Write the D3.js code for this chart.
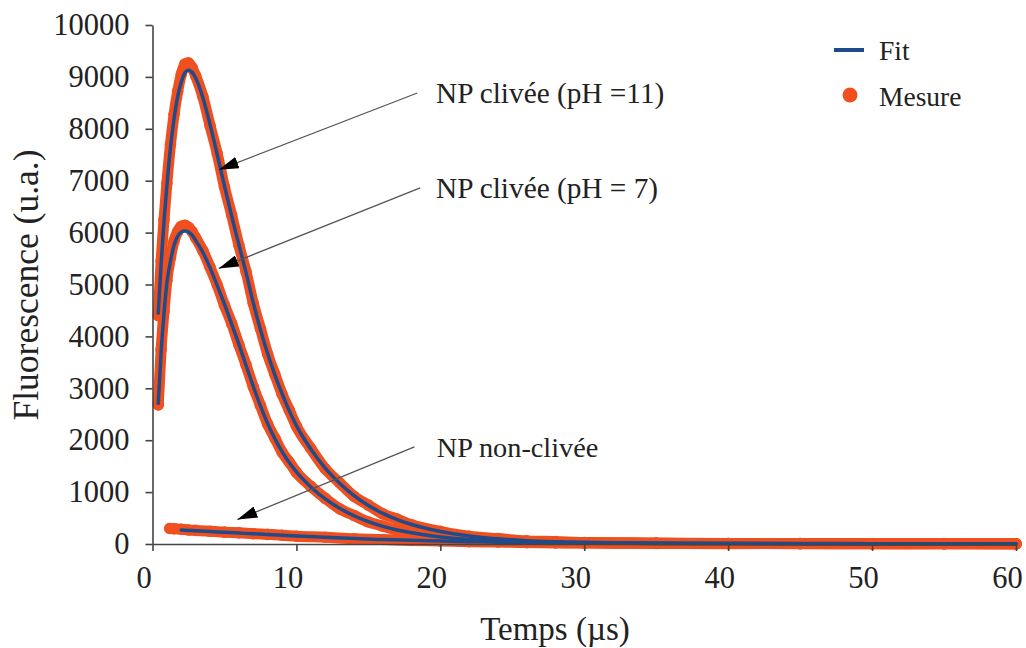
<!DOCTYPE html>
<html>
<head>
<meta charset="utf-8">
<script src="https://cdn.jsdelivr.net/npm/d3@7"></script>
<style>
  html, body { margin: 0; padding: 0; background: #ffffff; }
  svg { display: block; }
  text { font-family: "Liberation Serif", "DejaVu Serif", serif; fill: #222; }
</style>
</head>
<body>
<svg id="chart" width="1026" height="648"></svg>
<script>
// ---------- data ----------
const times = [0.4,0.6,0.8,1.0,1.25,1.5,1.75,2.0,2.25,2.5,2.75,3.0,3.5,4.0,4.5,5.0,5.5,6.0,6.5,7.0,7.5,8.0,8.5,9.0,9.5,10,11,12,13,14,15,16,17,18,20,22,24,26,28,30,35,40,45,50,55,60];

const fitPH11 = [4450,5400,6220,6900,7640,8200,8620,8900,9080,9130,9090,8980,8600,8080,7500,6900,6320,5770,5230,4650,4130,3670,3260,2900,2570,2280,1830,1460,1170,930,740,590,470,375,240,155,100,65,45,32,18,12,9,7,6,5];
const mesPH11 = [4400,5450,6250,6950,7700,8280,8720,9050,9250,9270,9180,9020,8620,8060,7520,6880,6340,5760,5250,4640,4150,3660,3270,2890,2580,2270,1840,1450,1180,920,750,580,480,370,245,150,105,60,48,30,20,10,11,6,8,4];

const fitPH7 = [2710,3700,4450,5030,5450,5760,5930,6010,6030,6010,5950,5850,5620,5320,4980,4620,4240,3850,3440,3040,2660,2320,2030,1780,1570,1390,1100,870,690,545,430,340,270,215,135,88,58,40,28,20,12,9,7,6,5,4];
const mesPH7 = [2680,3750,4480,5080,5520,5840,6020,6120,6140,6100,6020,5900,5650,5330,4990,4600,4250,3840,3450,3030,2670,2310,2040,1770,1580,1380,1110,880,680,550,425,345,265,220,130,92,55,42,25,22,10,11,6,8,4,5];

const timesNC = [1.2,1.5,2.0,2.5,3,4,5,6,7,8,9,10,12,14,16,18,20,22,24,26,28,30,35,40,45,50,55,60];
const fitNC = [null,null,270,262,255,240,225,210,196,182,168,155,128,105,86,70,56,45,36,29,23,19,12,8,6,5,4,3];
const mesNC = [300,295,285,270,262,245,228,215,198,185,170,150,130,102,88,68,58,43,38,27,25,17,14,7,8,4,5,2];

const xTicks = [0,10,20,30,40,50,60];
const yTicks = [0,1000,2000,3000,4000,5000,6000,7000,8000,9000,10000];

const xTitle = "Temps (µs)";
const yTitle = "Fluorescence (u.a.)";
const legendLabels = ["Fit", "Mesure"];

// annotations: label anchor and arrow tip in data units
const annLabels = ["NP clivée (pH =11)", "NP clivée (pH = 7)", "NP non-clivée"];
const annTextT = [19.7, 19.7, 19.75];
const annTextV = [8690, 6860, 1870];
const annStartT = [18.4, 18.6, 18.2];
const annTipT = [4.6, 4.6, 5.9];
const annTipV = [7210, 5310, 470];

// ---------- drawing ----------
const blue = "#1f4b8a";
const orange = "#f0501f";

const svg = d3.select("#chart");
const x = d3.scaleLinear().domain([0, 60]).range([152.5, 1016]);
const y = d3.scaleLinear().domain([0, 10000]).range([544, 25]);

const mesSeries = [
  {t: times, v: mesPH11},
  {t: times, v: mesPH7},
  {t: timesNC, v: mesNC}
];
const fitSeries = [
  {t: times, v: fitPH11},
  {t: times, v: fitPH7},
  {t: timesNC, v: fitNC}
];

const line = d3.line()
  .defined(d => d[1] != null)
  .x(d => x(d[0]))
  .y(d => y(d[1]))
  .curve(d3.curveMonotoneX);

const gMes = svg.append("g");
mesSeries.forEach(s => {
  const pts = s.t.map((t, i) => [t, s.v[i]]);
  gMes.append("path").attr("d", line(pts))
    .attr("fill", "none").attr("stroke", orange)
    .attr("stroke-width", 11).attr("stroke-linecap", "round").attr("stroke-linejoin", "round");
  gMes.selectAll(null).data(pts.filter(p => p[1] != null)).enter().append("circle")
    .attr("cx", d => x(d[0])).attr("cy", d => y(d[1])).attr("r", 5.8).attr("fill", orange);
});

const gFit = svg.append("g");
fitSeries.forEach(s => {
  const pts = s.t.map((t, i) => [t, s.v[i]]);
  gFit.append("path").attr("d", line(pts))
    .attr("fill", "none").attr("stroke", blue)
    .attr("stroke-width", 3.5).attr("stroke-linecap", "round");
});

// axes
const axisColor = "#444";
const gx = svg.append("g").attr("transform", `translate(0,${y(0)})`)
  .call(d3.axisBottom(x).tickValues(xTicks).tickSize(7).tickSizeOuter(0).tickPadding(15).tickFormat(d3.format("d")));
const gy = svg.append("g").attr("transform", `translate(${x(0)},0)`)
  .call(d3.axisLeft(y).tickValues(yTicks).tickSize(7).tickSizeOuter(0).tickPadding(16).tickFormat(d3.format("d")));
[gx, gy].forEach(g => {
  g.selectAll("path.domain").attr("stroke", axisColor).attr("stroke-width", 1.6);
  g.selectAll(".tick line").attr("stroke", axisColor).attr("stroke-width", 1.6);
  g.selectAll(".tick text").attr("font-family", "Liberation Serif").attr("font-size", 30.5).attr("fill", "#222");
});
gx.selectAll(".tick text").attr("dx", -9);

// axis titles
svg.append("text").attr("x", 555).attr("y", 640).attr("text-anchor", "middle")
  .attr("font-size", 33).text(xTitle);
svg.append("text").attr("transform", "translate(38,285) rotate(-90)").attr("text-anchor", "middle")
  .attr("font-size", 35.5).text(yTitle);

// annotations
const defs = svg.append("defs");
defs.append("marker").attr("id", "ah").attr("viewBox", "0 0 20 12")
  .attr("refX", 20).attr("refY", 6).attr("markerWidth", 20).attr("markerHeight", 12)
  .attr("markerUnits", "userSpaceOnUse").attr("orient", "auto")
  .append("path").attr("d", "M0,0 L20,6 L0,12 Z").attr("fill", "#000");

const annSize = [29.3, 29.3, 28.3];
annLabels.forEach((lab, i) => {
  svg.append("line")
    .attr("x1", x(annStartT[i])).attr("y1", y(annTextV[i]))
    .attr("x2", x(annTipT[i])).attr("y2", y(annTipV[i]))
    .attr("stroke", "#555").attr("stroke-width", 1.3)
    .attr("marker-end", "url(#ah)");
  svg.append("text").attr("x", x(annTextT[i])).attr("y", y(annTextV[i]))
    .attr("dy", "0.35em").attr("font-size", annSize[i]).text(lab);
});

// legend
const lg = svg.append("g");
lg.append("line").attr("x1", 834).attr("x2", 864).attr("y1", 50).attr("y2", 50)
  .attr("stroke", blue).attr("stroke-width", 4);
lg.append("text").attr("x", 879).attr("y", 50).attr("dy", "0.35em").attr("font-size", 27.5).text(legendLabels[0]);
lg.append("circle").attr("cx", 850).attr("cy", 95).attr("r", 7.5).attr("fill", orange);
lg.append("text").attr("x", 879).attr("y", 96).attr("dy", "0.35em").attr("font-size", 27.5).text(legendLabels[1]);
</script>
</body>
</html>
